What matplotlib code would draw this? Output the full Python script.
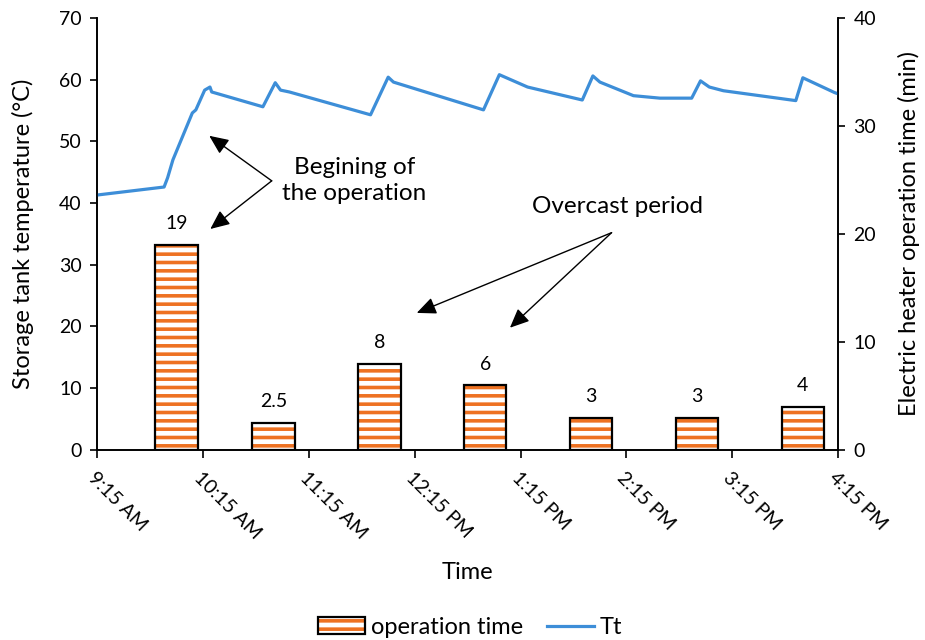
import matplotlib.pyplot as plt
from matplotlib.patches import Patch
from matplotlib.lines import Line2D

plt.rcParams['font.family'] = ['Lato', 'DejaVu Sans']
plt.rcParams['hatch.linewidth'] = 2.6

# Storage tank temperature over the day
tt_times = ['9:15', '9:53', '9:55', '9:58', '10:09', '10:11', '10:16', '10:19', '10:20',
            '10:49', '10:56', '10:59', '11:04', '11:50', '12:00', '12:03', '12:54',
            '13:03', '13:19', '13:50', '13:56', '14:00', '14:19', '14:34', '14:52',
            '14:57', '15:02', '15:10', '15:51', '15:55', '16:13', '16:15']
tt_values = [41.3, 42.6, 44.1, 47.0, 54.6, 55.1, 58.3, 58.8, 58.0,
             55.6, 59.5, 58.3, 58.0, 54.3, 60.4, 59.6, 55.1,
             60.8, 58.8, 56.7, 60.6, 59.6, 57.4, 57.0, 57.0,
             59.8, 58.8, 58.2, 56.6, 60.3, 57.9, 57.7]

# Electric heater operation time (min)
bar_times = ['10:00', '10:55', '11:55', '12:55', '13:55', '14:55', '15:55']
bar_values = [19, 2.5, 8, 6, 3, 3, 4]
bar_labels = ['19', '2.5', '8', '6', '3', '3', '4']

tick_labels = ['9:15 AM', '10:15 AM', '11:15 AM', '12:15 PM',
               '1:15 PM', '2:15 PM', '3:15 PM', '4:15 PM']


def to_hours(s):
    h, m = s.split(':')
    return int(h) + int(m) / 60


line_color = '#3D8ED8'
bar_color = '#EE7222'

fig = plt.figure(figsize=(9.25, 6.4), dpi=100)
ax = fig.add_axes([0.1049, 0.297, 0.8012, 0.675])
ax2 = ax.twinx()

x_line = [to_hours(t) for t in tt_times]
x_bar = [to_hours(t) for t in bar_times]

ax.plot(x_line, tt_values, color=line_color, lw=2.3, zorder=3)

# hatched fill, then black outline on top
ax2.bar(x_bar, bar_values, width=0.4, color='white', edgecolor=bar_color,
        hatch='--', linewidth=0, zorder=2)
ax2.bar(x_bar, bar_values, width=0.4, fill=False, edgecolor='black',
        linewidth=1.6, zorder=3)
for xb, v, lab in zip(x_bar, bar_values, bar_labels):
    ax2.annotate(lab, (xb, v), xytext=(0, 9), textcoords='offset points',
                 ha='center', va='bottom', fontsize=14)

xticks = [9.25 + i for i in range(8)]
ax.set_xlim(9.25, 16.25)
ax.set_xticks(xticks)
ax.set_xticklabels(tick_labels, rotation=-45, ha='left', va='top',
                   rotation_mode='anchor', fontsize=14)
ax.set_ylim(0, 70)
ax.set_yticks(range(0, 71, 10))
ax2.set_ylim(0, 40)
ax2.set_yticks(range(0, 41, 10))

for a in (ax, ax2):
    a.spines['top'].set_visible(False)
    for s in ('left', 'right', 'bottom'):
        a.spines[s].set_linewidth(1.2)
    a.tick_params(axis='both', direction='out', length=5, width=1.2,
                  labelsize=14)
ax.tick_params(axis='x', length=6, pad=8)
ax.tick_params(axis='y', pad=6)
ax2.tick_params(axis='y', pad=6)

ax.set_ylabel('Storage tank temperature (°C)', fontsize=17, labelpad=18)
ax2.set_ylabel('Electric heater operation time (min)', fontsize=17, labelpad=16)
ax.set_xlabel('Time', fontsize=17, labelpad=14)

arrow = dict(arrowstyle='-|>,head_length=0.9,head_width=0.4', color='black',
             lw=1, mutation_scale=13, shrinkA=0, shrinkB=0)
ax.annotate('', xy=(10.31, 50.9), xytext=(10.9, 43.6), arrowprops=arrow, zorder=5)
ax.annotate('', xy=(10.32, 35.8), xytext=(10.9, 43.6), arrowprops=arrow, zorder=5)
ax.text(11.68, 43.6, 'Begining of\nthe operation', ha='center', va='center',
        fontsize=17.5, linespacing=1.3)

ax.annotate('', xy=(12.27, 22.2), xytext=(14.11, 35.2), arrowprops=arrow, zorder=5)
ax.annotate('', xy=(13.15, 19.8), xytext=(14.11, 35.2), arrowprops=arrow, zorder=5)
ax.text(14.17, 39.4, 'Overcast period', ha='center', va='center', fontsize=17.5)

handles = [
    (Patch(facecolor='white', edgecolor=bar_color, hatch='--', linewidth=0),
     Patch(fill=False, edgecolor='black', linewidth=1.6)),
    Line2D([], [], color=line_color, lw=2.3),
]
fig.legend(handles, ['operation time', 'Tt'], loc='lower center',
           bbox_to_anchor=(0.508, -0.03), ncol=2, frameon=False, fontsize=17,
           handlelength=2.0, handleheight=0.7, handletextpad=0.25,
           columnspacing=1.0)

fig.savefig('out.png', dpi=100)
